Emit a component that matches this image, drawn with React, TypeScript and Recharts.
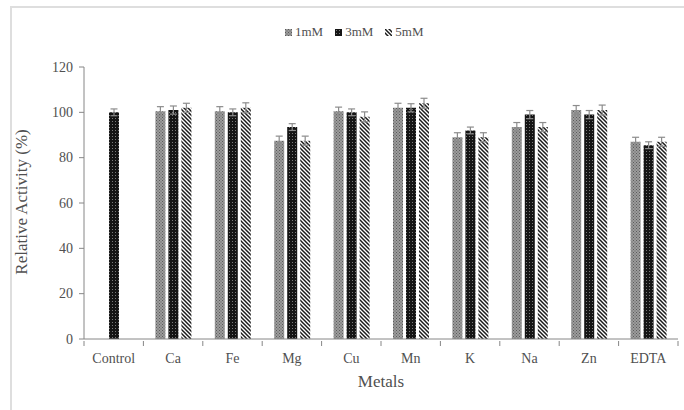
import { Bar, BarChart, ErrorBar, Legend, XAxis, YAxis } from "recharts";

const metals = ["Control", "Ca", "Fe", "Mg", "Cu", "Mn", "K", "Na", "Zn", "EDTA"];
const act1mM = [null, 100.5, 100.5, 87.5, 100.5, 102, 89, 93.5, 101, 87];
const act3mM = [100, 101, 100, 93.5, 100, 102, 92, 99, 99, 85.5];
const act5mM = [null, 102, 102, 87.5, 98, 104, 89, 93.5, 101, 87];
const err1mM = [null, 2, 2, 2, 1.8, 2, 2, 2, 2, 2];
const err3mM = [1.5, 1.8, 1.5, 1.5, 1.5, 1.8, 1.5, 1.8, 1.8, 1.5];
const err5mM = [null, 2, 2.2, 2, 2.2, 2.2, 2, 2, 2.2, 2];
const yTicks = [0, 20, 40, 60, 80, 100, 120];

const data = metals.map((m, i) => ({
  metal: m,
  a1: act1mM[i],
  a3: act3mM[i],
  a5: act5mM[i],
  e1: err1mM[i],
  e3: err3mM[i],
  e5: err5mM[i],
}));

const FONT = '"Liberation Serif", "Times New Roman", serif';
const TEXT = "#505050";
const AXIS = "#868686";
const W = 684;
const H = 410;
const M = { top: 67, right: 6, bottom: 41, left: 0 };
const Y_AXIS_W = 84;
const BAND = (W - M.left - M.right - Y_AXIS_W) / metals.length;

const series = [
  { key: "a1", err: "e1", name: "1mM", fill: "url(#pat1mM)" },
  { key: "a3", err: "e3", name: "3mM", fill: "url(#pat3mM)" },
  { key: "a5", err: "e5", name: "5mM", fill: "url(#pat5mM)" },
];

// category labels centred in the band, tick marks on the band edges
function MetalTick(props: any) {
  const { x, y, payload, index } = props;
  const half = BAND / 2;
  return (
    <g>
      <line x1={x - half} x2={x - half} y1={y} y2={y + 5} stroke={AXIS} />
      {index === metals.length - 1 && (
        <line x1={x + half} x2={x + half} y1={y} y2={y + 5} stroke={AXIS} />
      )}
      <text
        x={x}
        y={y + 17}
        textAnchor="middle"
        dominantBaseline="central"
        fill={TEXT}
        fontSize={14}
        fontFamily={FONT}
      >
        {payload.value}
      </text>
    </g>
  );
}

function ValueTick(props: any) {
  const { x, y, payload } = props;
  return (
    <text
      x={x}
      y={y}
      textAnchor="end"
      dominantBaseline="central"
      fill={TEXT}
      fontSize={14}
      fontFamily={FONT}
    >
      {payload.value}
    </text>
  );
}

function PatternLegend() {
  return (
    <div style={{ display: "flex", alignItems: "center", fontFamily: FONT, fontSize: 13, color: TEXT }}>
      {series.map((s) => (
        <div key={s.key} style={{ display: "flex", alignItems: "center", marginRight: 12 }}>
          <svg width={7} height={7} style={{ marginRight: 3 }}>
            <rect width={7} height={7} fill={s.fill} />
          </svg>
          <span>{s.name}</span>
        </div>
      ))}
    </div>
  );
}

export default function App() {
  return (
    <div style={{ position: "absolute", left: 0, top: 0, width: W, height: H, overflow: "hidden", background: "#fff" }}>
      <div
        style={{
          position: "absolute",
          left: 10,
          top: 6,
          width: 720,
          height: 440,
          borderLeft: "2px solid #dedede",
          borderTop: "2px solid #dedede",
        }}
      />
      <BarChart width={W} height={H} data={data} margin={M} barSize={10} barGap={3}>
        <defs>
          <pattern id="pat1mM" width={3} height={3} patternUnits="userSpaceOnUse">
            <rect width={3} height={3} fill="#9c9c9c" />
            <rect width={1} height={1} fill="#5a5a5a" />
            <rect x={1.5} y={1.5} width={1} height={1} fill="#5a5a5a" />
          </pattern>
          <pattern id="pat3mM" width={3} height={3} patternUnits="userSpaceOnUse">
            <rect width={3} height={3} fill="#151515" />
            <rect x={1} y={1} width={1} height={1} fill="#7a7a7a" />
          </pattern>
          <pattern id="pat5mM" width={4} height={4} patternUnits="userSpaceOnUse">
            <rect width={4} height={4} fill="#fff" />
            <path d="M0,0 L4,4 M-1,3 L1,5 M3,-1 L5,1" stroke="#1a1a1a" strokeWidth={1.5} />
          </pattern>
        </defs>
        <XAxis
          dataKey="metal"
          stroke={AXIS}
          tickLine={false}
          tickSize={0}
          tick={<MetalTick />}
          interval={0}
          height={30}
        />
        <YAxis
          width={Y_AXIS_W}
          domain={[0, 120]}
          ticks={yTicks}
          interval={0}
          stroke={AXIS}
          tickSize={5}
          tickMargin={6}
          tick={<ValueTick />}
        />
        <Legend
          layout="horizontal"
          align="center"
          verticalAlign="middle"
          content={<PatternLegend />}
          wrapperStyle={{ left: 285, top: 24, width: 170, height: 18 }}
        />
        {series.map((s) => (
          <Bar key={s.key} dataKey={s.key} name={s.name} fill={s.fill} isAnimationActive={false}>
            <ErrorBar dataKey={s.err} width={3.5} stroke="#8c8c8c" strokeWidth={1.2} isAnimationActive={false} />
          </Bar>
        ))}
      </BarChart>
      <div
        style={{
          position: "absolute",
          left: 381,
          top: 382,
          transform: "translate(-50%, -50%)",
          fontFamily: FONT,
          fontSize: 17,
          color: TEXT,
          whiteSpace: "nowrap",
        }}
      >
        Metals
      </div>
      <div
        style={{
          position: "absolute",
          left: 22,
          top: 202,
          transform: "translate(-50%, -50%) rotate(-90deg)",
          fontFamily: FONT,
          fontSize: 17,
          color: TEXT,
          whiteSpace: "nowrap",
        }}
      >
        Relative Activity (%)
      </div>
    </div>
  );
}
